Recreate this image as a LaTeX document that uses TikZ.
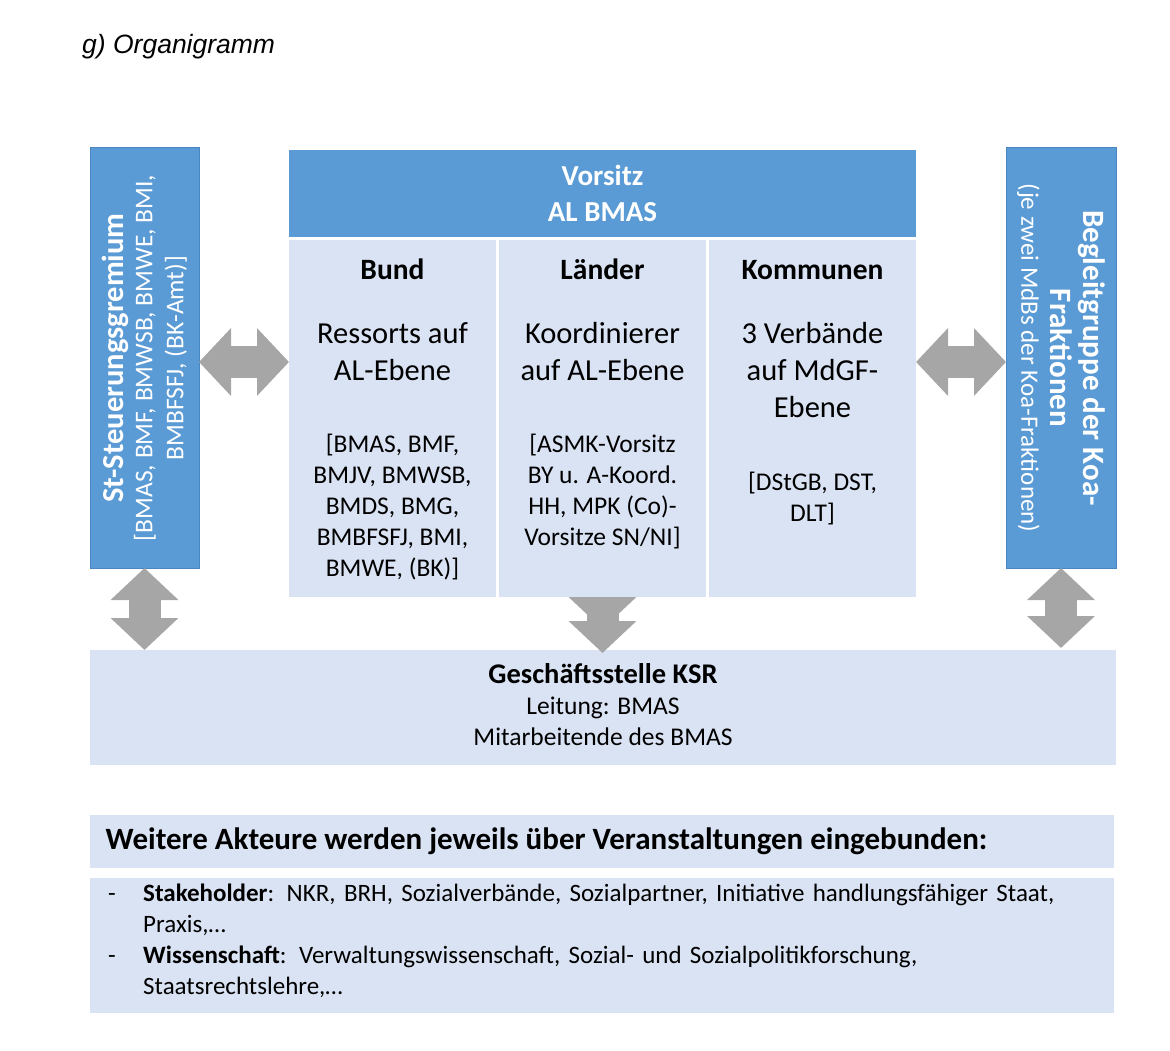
\documentclass[tikz,border=0pt]{standalone}
\usepackage{fontspec}
\setmainfont{Carlito}
\setsansfont{Liberation Sans}
\usetikzlibrary{arrows.meta}
\definecolor{blu}{HTML}{5B9BD5}
\definecolor{blubd}{HTML}{4A86C0}
\definecolor{lbl}{HTML}{DAE3F3}
\definecolor{gar}{HTML}{A6A6A6}
\begin{document}
\begin{tikzpicture}[x=1pt,y=-1pt,
  box/.style={anchor=north west,inner sep=0,outer sep=0},
  bbox/.style={box,fill=blu,draw=blubd,line width=1pt},
  lbox/.style={box,fill=lbl},
  big/.style={font=\fontsize{30.5}{37}\selectfont},
  sml/.style={font=\fontsize{25.5}{31}\selectfont},
  dar/.style={draw=gar,line width=32pt,{Triangle[width=66pt,length=32pt]}-{Triangle[width=66pt,length=32pt]}},
]
\useasboundingbox (0,0) rectangle (1170,1051);
\node[anchor=base west,inner sep=0,font=\sffamily\itshape\fontsize{26.5}{30}\selectfont] (title) at (82,54) {g) Organigramm};
% left and right boxes
\node[bbox,minimum width=109,minimum height=420] (steer) at (90,148) {};
\node[rotate=90,align=center,text=white,font=\fontsize{25.5}{31}\selectfont] (steert) at (steer.center) {{\bfseries\fontsize{30.5}{34}\selectfont St-Steuerungsgremium}\\[-2pt][BMAS, BMF, BMWSB, BMWE, BMI,\\BMBFSFJ, (BK-Amt)]};
\node[bbox,minimum width=110,minimum height=420] (begl) at (1006,148) {};
\node[rotate=-90,align=center,text=white,font=\fontsize{31}{33}\selectfont] (beglt) at (begl.center) {\bfseries Begleitgruppe der Koa-\\\bfseries Fraktionen\\[-4pt]{\fontsize{25}{28}\selectfont (je zwei MdBs der Koa-Fraktionen)}};
% Vorsitz
\node[bbox,minimum width=627,minimum height=87,draw=none] (vors) at (289,150) {};
\node[align=center,text=white,font=\bfseries\fontsize{29}{36}\selectfont] (vorst) at (vors.center) {Vorsitz\\AL BMAS};
% columns
\node[lbox,minimum width=207,minimum height=357] (bund) at (289,240) {};
\node[lbox,minimum width=207,minimum height=357] (laender) at (499,240) {};
\node[lbox,minimum width=207,minimum height=357] (komm) at (709,240) {};
\foreach \c/\h in {bund/Bund,laender/Länder,komm/Kommunen}{
  \node[anchor=base,font=\bfseries\fontsize{29.5}{37}\selectfont] (\c h) at ([yshift=-39]\c.north) {\h};
}
\node[anchor=north,big,align=center,inner sep=0] (bunda) at ([yshift=-82]bund.north) {Ressorts auf\\AL-Ebene};
\node[anchor=north,big,align=center,inner sep=0] (laendera) at ([yshift=-82]laender.north) {Koordinierer\\auf AL-Ebene};
\node[anchor=north,big,align=center,inner sep=0] (komma) at ([yshift=-82]komm.north) {3 Verbände\\auf MdGF-\\Ebene};
\node[anchor=north,sml,align=center,inner sep=0] (bundb) at ([yshift=-194]bund.north) {[BMAS, BMF,\\BMJV, BMWSB,\\BMDS, BMG,\\BMBFSFJ, BMI,\\BMWE, (BK)]};
\node[anchor=north,sml,align=center,inner sep=0] (laenderb) at ([yshift=-194]laender.north) {[ASMK-Vorsitz\\BY u. A-Koord.\\HH, MPK (Co)-\\Vorsitze SN/NI]};
\node[anchor=north,sml,align=center,inner sep=0] (kommb) at ([yshift=-232]komm.north) {[DStGB, DST,\\DLT]};
% Geschaeftsstelle
\node[lbox,minimum width=1026,minimum height=115] (gs) at (90,650) {};
\node[anchor=north,align=center,inner sep=0,font=\fontsize{25.5}{31}\selectfont] (gst) at ([yshift=-13]gs.north) {{\bfseries\fontsize{28.5}{33}\selectfont Geschäftsstelle KSR}\\Leitung: BMAS\\Mitarbeitende des BMAS};
% arrows
\coordinate (ya) at (0,362);
\draw[dar] (steer.east |- ya) -- (bund.west |- ya);
\draw[dar] (komm.east |- ya) -- (begl.west |- ya);
\draw[dar] (steer.south) -- (steer.south |- gs.north);
\draw[dar] ([yshift=-32]laender.south) -- ([yshift=-3]laender.south |- gs.north);
\draw[dar] (begl.south) -- ([yshift=2]begl.south |- gs.north);
% bottom
\node[lbox,minimum width=1024,minimum height=53] (wa) at (90,815) {};
\node[anchor=west,font=\bfseries\fontsize{31}{34}\selectfont] (wat) at ([xshift=12]wa.west) {Weitere Akteure werden jeweils über Veranstaltungen eingebunden:};
\node[lbox,minimum width=1024,minimum height=135] (wb) at (90,878) {};
\node[anchor=north west,inner sep=0,align=left,text width=990,font=\fontsize{25}{31}\selectfont] (wbt) at (108,884) {%
\makebox[35pt][l]{-}\textbf{Stakeholder}: NKR, BRH, Sozialverbände, Sozialpartner, Initiative handlungsfähiger Staat,\\
\hspace*{35pt}Praxis,\dots\\
\makebox[35pt][l]{-}\textbf{Wissenschaft}: Verwaltungswissenschaft, Sozial- und Sozialpolitikforschung,\\
\hspace*{35pt}Staatsrechtslehre,\dots};
\end{tikzpicture}
\end{document}
